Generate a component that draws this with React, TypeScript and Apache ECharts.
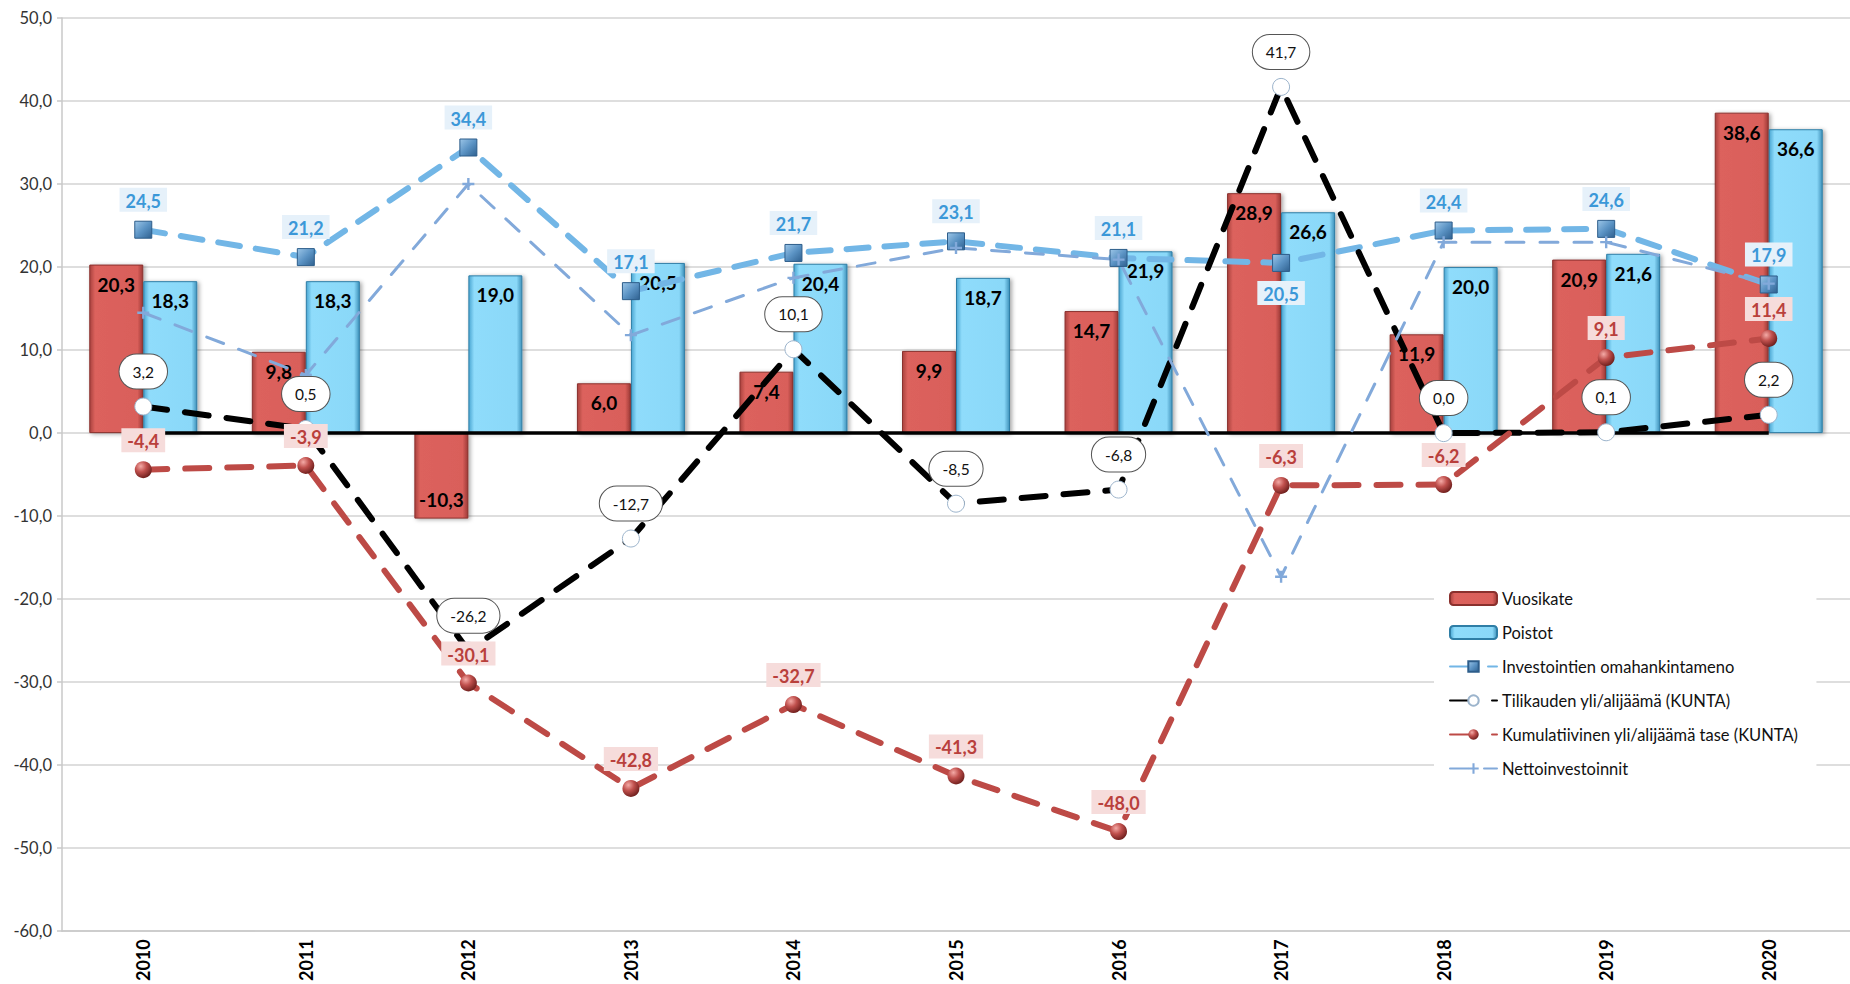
import React, { useEffect, useRef } from "react";
import * as echarts from "echarts";

const years = ["2010", "2011", "2012", "2013", "2014", "2015", "2016", "2017", "2018", "2019", "2020"];
const vuosikate = [20.3, 9.8, -10.3, 6.0, 7.4, 9.9, 14.7, 28.9, 11.9, 20.9, 38.6];
const poistot = [18.3, 18.3, 19.0, 20.5, 20.4, 18.7, 21.9, 26.6, 20.0, 21.6, 36.6];
const investoinnit = [24.5, 21.2, 34.4, 17.1, 21.7, 23.1, 21.1, 20.5, 24.4, 24.6, 17.9];
const tilikausi = [3.2, 0.5, -26.2, -12.7, 10.1, -8.5, -6.8, 41.7, 0.0, 0.1, 2.2];
const kumulatiivinen = [-4.4, -3.9, -30.1, -42.8, -32.7, -41.3, -48.0, -6.3, -6.2, 9.1, 11.4];
const netto = [14.5, 7.0, 30.0, 11.8, 18.7, 22.3, 20.9, -17.3, 23.0, 23.0, 18.0];
const zeroLine = years.map(() => 0);
const yMin = -60;
const yMax = 50;
const yStep = 10;

const names = [
  "Vuosikate",
  "Poistot",
  "Investointien omahankintameno",
  "Tilikauden yli/alijäämä (KUNTA)",
  "Kumulatiivinen yli/alijäämä tase (KUNTA)",
  "Nettoinvestoinnit",
];

const fmt = (v: number) => v.toFixed(1).replace(".", ",");
const FONT = "Lato, 'Open Sans', sans-serif";

export default function App() {
  const ref = useRef<HTMLDivElement>(null);
  useEffect(() => {
    if (!ref.current) return;
    const chart = echarts.init(ref.current, undefined, { renderer: "svg" });
    const L = echarts.graphic.LinearGradient;
    const R = echarts.graphic.RadialGradient;
    const redBar = new L(0, 0, 1, 0, [
      { offset: 0, color: "#a9423e" },
      { offset: 0.1, color: "#dc625d" },
      { offset: 0.9, color: "#d95f5a" },
      { offset: 1, color: "#9e3a37" },
    ]);
    const blueBar = new L(0, 0, 1, 0, [
      { offset: 0, color: "#4aa6d2" },
      { offset: 0.1, color: "#8fdcfb" },
      { offset: 0.9, color: "#8ad8f8" },
      { offset: 1, color: "#3f92bb" },
    ]);
    const barLabel = (v: number) => ({
      value: v,
      label: { position: v < 0 ? "insideBottom" : "insideTop" },
    });
    const opt: any = {
      animation: false,
      textStyle: { fontFamily: FONT },
      grid: { left: 62, right: 0, top: 18, bottom: 52, containLabel: false },
      legend: {
        data: names,
        orient: "vertical",
        left: 1434,
        top: 578,
        padding: [12, 18, 12, 15],
        backgroundColor: "#ffffff",
        itemWidth: 47,
        itemHeight: 13,
        itemGap: 17,
        textStyle: { fontFamily: FONT, fontSize: 16.5, color: "#111" },
      },
      xAxis: {
        type: "category",
        data: years,
        boundaryGap: true,
        axisLine: { onZero: false, lineStyle: { color: "#c8c8c8", width: 1.5 } },
        axisTick: { show: false },
        axisLabel: { rotate: 90, fontWeight: "bold", fontSize: 18, color: "#000", margin: 8, fontFamily: FONT },
      },
      yAxis: {
        type: "value",
        min: yMin,
        max: yMax,
        interval: yStep,
        axisLine: { show: true, lineStyle: { color: "#c8c8c8", width: 1.5 } },
        axisTick: { show: true, length: 5, lineStyle: { color: "#c8c8c8", width: 1.5 } },
        splitLine: { lineStyle: { color: "#d3d3d3", width: 1.5 } },
        axisLabel: { formatter: fmt, fontSize: 16.5, color: "#333", margin: 10, fontFamily: FONT },
      },
      series: [
        {
          name: names[0],
          type: "bar",
          data: vuosikate.map(barLabel),
          barWidth: 54,
          barGap: "0%",
          itemStyle: {
            color: redBar,
            borderColor: "#8a302d",
            borderWidth: 1,
            shadowBlur: 4,
            shadowOffsetX: 2,
            shadowOffsetY: 1,
            shadowColor: "rgba(0,0,0,0.35)",
          },
          label: {
            show: true,
            formatter: (p: any) => fmt(p.value),
            fontWeight: "bold",
            fontSize: 19,
            color: "#000",
            distance: 10,
            fontFamily: FONT,
          },
        },
        {
          name: names[1],
          type: "bar",
          data: poistot.map(barLabel),
          barWidth: 54,
          barGap: "0%",
          itemStyle: {
            color: blueBar,
            borderColor: "#2f7ea6",
            borderWidth: 1,
            shadowBlur: 4,
            shadowOffsetX: 2,
            shadowOffsetY: 1,
            shadowColor: "rgba(0,0,0,0.35)",
          },
          label: {
            show: true,
            formatter: (p: any) => fmt(p.value),
            fontWeight: "bold",
            fontSize: 19,
            color: "#000",
            distance: 10,
            fontFamily: FONT,
          },
        },
        {
          name: "zero",
          type: "line",
          data: zeroLine,
          symbol: "none",
          silent: true,
          lineStyle: { color: "#000", width: 3.5 },
          label: { show: false },
        },
        {
          name: names[2],
          type: "line",
          data: investoinnit.map((v, i) => (i === 7 ? { value: v, label: { position: "bottom" } } : v)),
          symbol: "rect",
          symbolSize: 17,
          lineStyle: { color: "#72b6e6", width: 6, type: [22, 16], cap: "round" },
          itemStyle: {
            color: new L(0, 0, 1, 1, [
              { offset: 0, color: "#9cc6e8" },
              { offset: 0.5, color: "#5b93c4" },
              { offset: 1, color: "#2f6190" },
            ]),
            borderColor: "#2d5d8a",
            borderWidth: 1,
          },
          label: {
            show: true,
            position: "top",
            distance: 9,
            formatter: (p: any) => fmt(p.value),
            color: "#3b98d8",
            fontWeight: "bold",
            fontSize: 18,
            backgroundColor: "#e6f1fa",
            padding: [4, 6, 2, 6],
            fontFamily: FONT,
          },
        },
        {
          name: names[3],
          type: "line",
          data: tilikausi,
          symbol: "circle",
          symbolSize: 17,
          lineStyle: { color: "#000", width: 6, type: [24, 18], cap: "round" },
          itemStyle: { color: "#ffffff", borderColor: "#9cb4cc", borderWidth: 1 },
          label: {
            show: true,
            position: "top",
            distance: 9,
            formatter: (p: any) => fmt(p.value),
            color: "#111",
            fontSize: 15.5,
            backgroundColor: "#ffffff",
            borderColor: "#555",
            borderWidth: 1,
            borderRadius: 18,
            padding: [9, 13, 9, 13],
            fontFamily: FONT,
          },
        },
        {
          name: names[4],
          type: "line",
          data: kumulatiivinen,
          symbol: "circle",
          symbolSize: 17,
          lineStyle: { color: "#bd4a46", width: 6, type: [24, 18], cap: "round" },
          itemStyle: {
            color: new R(0.35, 0.3, 0.75, [
              { offset: 0, color: "#f4aaa6" },
              { offset: 0.45, color: "#c0504d" },
              { offset: 1, color: "#6a1c1a" },
            ]),
          },
          label: {
            show: true,
            position: "top",
            distance: 9,
            formatter: (p: any) => fmt(p.value),
            color: "#b9403c",
            fontWeight: "bold",
            fontSize: 18,
            backgroundColor: "#f6dcdb",
            padding: [4, 6, 2, 6],
            fontFamily: FONT,
          },
        },
        {
          name: names[5],
          type: "line",
          data: netto,
          symbol: "path://M4,0h2v4h4v2h-4v4h-2v-4h-4v-2h4z",
          symbolSize: 12,
          lineStyle: { color: "#82a9da", width: 3, type: [18, 16], cap: "round" },
          itemStyle: { color: "#82a9da" },
          label: { show: false },
        },
      ],
    };
    chart.setOption(opt);
    return () => chart.dispose();
  }, []);
  return (
    <div
      ref={ref}
      style={{ position: "absolute", left: 0, top: 0, width: 1850, height: 984, background: "#fff" }}
    />
  );
}
